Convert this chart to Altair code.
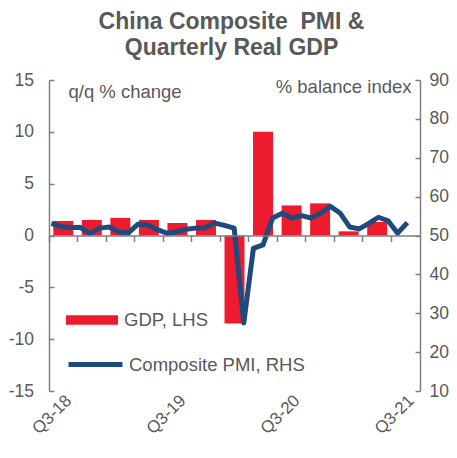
import altair as alt
import pandas as pd

# ---------------- data ----------------
quarters = ["Q3-18", "Q4-18", "Q1-19", "Q2-19", "Q3-19", "Q4-19", "Q1-20",
            "Q2-20", "Q3-20", "Q4-20", "Q1-21", "Q2-21", "Q3-21"]
gdp = [1.4, 1.5, 1.7, 1.5, 1.2, 1.5, -8.5, 10.0, 2.9, 3.1, 0.4, 1.3, None]

months = ["Jun-18", "Jul-18", "Aug-18", "Sep-18", "Oct-18", "Nov-18", "Dec-18",
          "Jan-19", "Feb-19", "Mar-19", "Apr-19", "May-19", "Jun-19", "Jul-19",
          "Aug-19", "Sep-19", "Oct-19", "Nov-19", "Dec-19", "Jan-20", "Feb-20",
          "Mar-20", "Apr-20", "May-20", "Jun-20", "Jul-20", "Aug-20", "Sep-20",
          "Oct-20", "Nov-20", "Dec-20", "Jan-21", "Feb-21", "Mar-21", "Apr-21",
          "May-21", "Jun-21", "Jul-21"]
pmi = [53.1, 52.3, 52.0, 52.1, 50.5, 51.9, 52.2,
       50.9, 50.7, 52.9, 52.7, 51.5, 50.6, 50.9,
       51.6, 51.9, 52.0, 53.2, 52.6, 51.9, 27.5,
       46.7, 47.6, 54.5, 55.7, 54.5, 55.1, 54.5,
       55.7, 57.5, 55.8, 52.2, 51.7, 53.1, 54.7,
       53.8, 50.6, 53.3]

quarter_labels = ["Q3-18", "Q3-19", "Q3-20", "Q3-21"]
left_ticks = [-15, -10, -5, 0, 5, 10, 15]
right_ticks = [10, 20, 30, 40, 50, 60, 70, 80, 90]
gdp_name = "GDP, LHS"
pmi_name = "Composite PMI, RHS"
title_lines = ["China Composite\u00a0 PMI &", "Quarterly Real GDP"]

gdp_df = pd.DataFrame({"quarter": quarters, "gdp": gdp, "series": gdp_name})
pmi_df = pd.DataFrame({"month": months, "idx": list(range(len(months))),
                       "pmi": pmi, "series": pmi_name})

# ---------------- style ----------------
W, H = 371, 311
FONT = "Liberation Sans"
FS = 18.5      # legend / axis-title text
TFS = 17.5     # tick labels
RED = "#ED1B2E"
BLUE = "#1F4A7E"
GRAY = "#7F7F7F"
TEXT = "#595959"
HYPHEN_LABEL = "'' + datum.value"

# Layer A: bars with left labels and bottom category labels
bars = alt.Chart(gdp_df).mark_bar().encode(
    x=alt.X("quarter:N", sort=quarters,
            scale=alt.Scale(domain=quarters, paddingInner=0.3, paddingOuter=0.15),
            axis=alt.Axis(orient="bottom", values=quarter_labels, labelAngle=-45,
                          labelAlign="right", labelBaseline="top", labelPadding=1,
                          ticks=False, domain=False, title=None, grid=False,
                          labelFontSize=17, labelColor=TEXT, labelFont=FONT)),
    y=alt.Y("gdp:Q", scale=alt.Scale(domain=[-15, 15], nice=False),
            axis=alt.Axis(orient="left", values=left_ticks, ticks=False,
                          labelExpr=HYPHEN_LABEL,
                          domain=True, domainColor=GRAY, domainWidth=1.5,
                          labelPadding=15.5, labelFontSize=TFS, labelColor=TEXT,
                          labelFont=FONT, grid=False,
                          title="q/q % change", titleAngle=0, titleAlign="left",
                          titleBaseline="alphabetic", titleX=19, titleY=17,
                          titleFontSize=FS, titleFontWeight="normal",
                          titleColor=TEXT, titleFont=FONT)),
    fill=alt.Fill("series:N", scale=alt.Scale(domain=[gdp_name], range=[RED]),
                  legend=alt.Legend(title=None, orient="none", legendX=17, legendY=214,
                                    symbolType="M-1,-0.18L1,-0.18L1,0.18L-1,0.18Z",
                                    symbolSize=2704, symbolStrokeWidth=0,
                                    labelFontSize=FS, labelColor=TEXT, labelFont=FONT,
                                    labelOffset=6, labelLimit=0, padding=0)),
)

# Layer B: invisible bars carrying zero-line axis and inner left ticks
tick_layer = alt.Chart(gdp_df).mark_bar(opacity=0).encode(
    x=alt.X("quarter:N", sort=quarters,
            scale=alt.Scale(domain=quarters, paddingInner=0, paddingOuter=0),
            axis=alt.Axis(orient="bottom", offset=-H / 2, bandPosition=0,
                          labels=False, ticks=True, tickSize=6, tickColor=GRAY,
                          tickWidth=1.5, domain=True, domainColor=GRAY,
                          domainWidth=1.5, title=None, grid=False, zindex=1)),
    y=alt.Y("gdp:Q", scale=alt.Scale(domain=[-15, 15], nice=False),
            axis=alt.Axis(orient="left", offset=-5, values=left_ticks, ticks=True,
                          tickSize=5, tickColor=GRAY, tickWidth=1.5, domain=False,
                          labels=False, title=None, grid=False)),
)

x_line_scale = alt.Scale(domain=[-0.25, 38.32], nice=False, zero=False)
y_line_scale = alt.Scale(domain=[10, 90], nice=False, zero=False)

# Layer C: PMI line with right axis
line = alt.Chart(pmi_df).mark_line(strokeWidth=5, strokeJoin="round").encode(
    x=alt.X("idx:Q", scale=x_line_scale, axis=None),
    y=alt.Y("pmi:Q", scale=y_line_scale,
            axis=alt.Axis(orient="right", values=right_ticks, ticks=False,
                          domain=True, domainColor=GRAY, domainWidth=1.5,
                          labelPadding=9, labelFontSize=TFS, labelColor=TEXT,
                          labelFont=FONT, grid=False,
                          title="% balance index", titleAngle=0, titleAlign="right",
                          titleBaseline="alphabetic", titleX=-9, titleY=12,
                          titleFontSize=FS, titleFontWeight="normal",
                          titleColor=TEXT, titleFont=FONT)),
    stroke=alt.Stroke("series:N", scale=alt.Scale(domain=[pmi_name], range=[BLUE]),
                      legend=alt.Legend(title=None, orient="none", legendX=17, legendY=255,
                                        symbolType="stroke", symbolSize=2916,
                                        symbolStrokeWidth=5,
                                        labelFontSize=FS, labelColor=TEXT, labelFont=FONT,
                                        labelOffset=4, labelLimit=0, padding=0)),
)

# Layer D: invisible line carrying inner right ticks
line_ticks = alt.Chart(pmi_df).mark_line(opacity=0).encode(
    x=alt.X("idx:Q", scale=x_line_scale, axis=None),
    y=alt.Y("pmi:Q", scale=y_line_scale,
            axis=alt.Axis(orient="right", offset=-5, values=right_ticks, ticks=True,
                          tickSize=5, tickColor=GRAY, tickWidth=1.5, domain=False,
                          labels=False, title=None, grid=False)),
)

chart = alt.layer(bars, tick_layer, line, line_ticks).resolve_scale(
    x="independent", y="independent"
).properties(
    width=W, height=H,
    title=alt.TitleParams(text=title_lines, fontSize=23, fontWeight="bold",
                          color=TEXT, font=FONT, anchor="middle", frame="group",
                          offset=11, lineHeight=26, dx=-3),
    padding={"left": 41, "top": 72, "right": 29, "bottom": 52},
    autosize=alt.AutoSizeParams(type="none"),
).configure(font=FONT).configure_view(stroke=None)

chart.save("out.html", embed_options={"renderer": "svg", "actions": False})
